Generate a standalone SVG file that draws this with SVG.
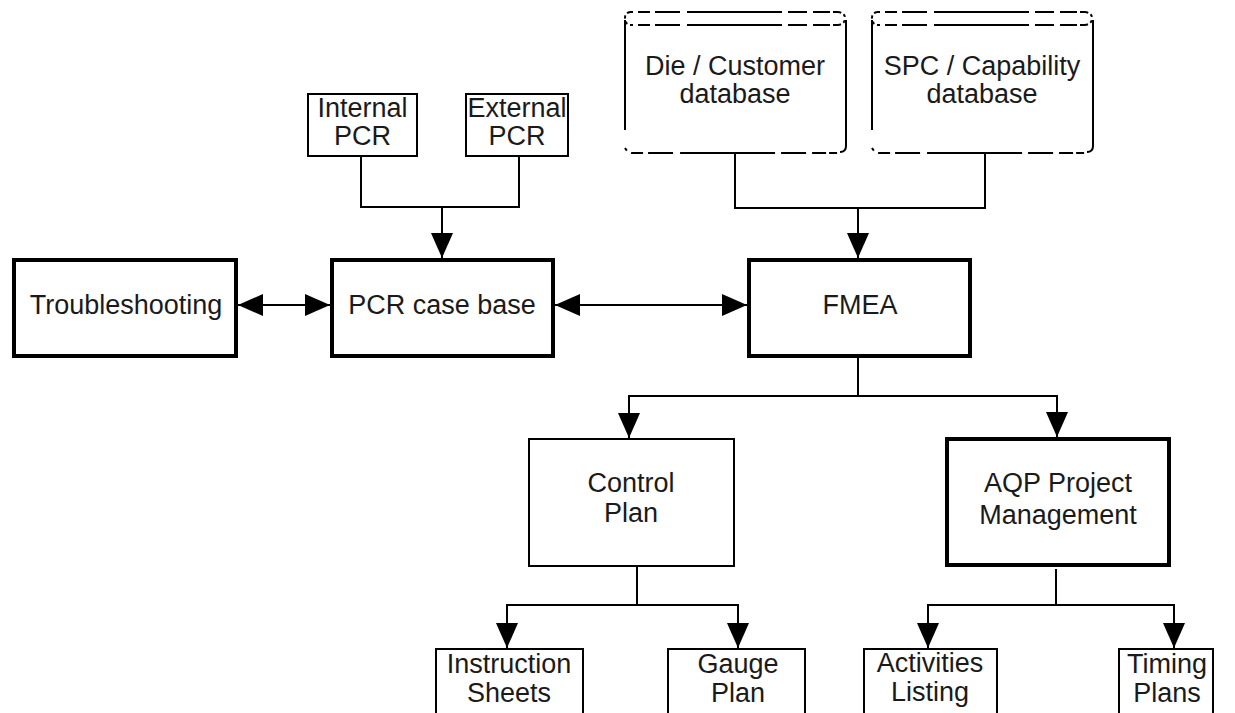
<svg xmlns="http://www.w3.org/2000/svg" xmlns:xlink="http://www.w3.org/1999/xlink" width="1235" height="713" viewBox="0 0 1235 713">
  <style>
    .thick { fill: #fff; stroke: #000; stroke-width: 4; }
    .thin { fill: #fff; stroke: #000; stroke-width: 2; }
    .lbl { font-family: "Liberation Sans", Arial, sans-serif; font-size: 27px; fill: #1a1a1a; text-anchor: middle; }
    .wire { fill: none; stroke: #000; stroke-width: 2; }
    .side { fill: none; stroke: #000; stroke-width: 2; }
    .rim { fill: none; stroke: #000; stroke-width: 2; }
  </style>
  <defs>
    <marker id="ah" markerUnits="userSpaceOnUse" markerWidth="28" markerHeight="24" refX="25" refY="12" orient="auto-start-reverse">
      <path d="M0,1 L25,12 L0,23 Z" fill="#000"/>
    </marker>
    <!-- cylinder outline: dashed rims, solid sides -->
    <g id="cyl">
      <rect x="624" y="12" width="222" height="142" fill="#fff"/>
      <path class="rim" d="M630,12 H838" stroke-dasharray="3 5 12 5 25 7 95 6 19 6 17 3 5 0"/>
      <path class="rim" d="M630,25 H838" stroke-dasharray="3 5 12 5 25 7 95 6 19 6 17 3 5 0"/>
      <path class="rim" d="M630,12 Q625,13 625,18 Q625,24 630,25" stroke-dasharray="3 3"/>
      <path class="rim" d="M838,12 Q845,13 845,18 Q845,24 838,25" stroke-dasharray="3 3"/>
      <path class="side" d="M625,20 V130"/>
      <path class="side" d="M846,20 V146 Q846,152 840,152"/>
      <path class="rim" d="M625,148 Q628,153 632,153 H838" stroke-dasharray="3 5 12 5 25 7 95 6 25 6 14 3 5 0"/>
    </g>
  </defs>

  <!-- connectors -->
  <g id="connectors">
    <path class="wire" d="M361,157 V207 H519 V157"/>
    <path class="wire" d="M442,207 V258" marker-end="url(#ah)"/>
    <path class="wire" d="M735,154 V208 H985 V154"/>
    <path class="wire" d="M858,208 V258" marker-end="url(#ah)"/>
    <path class="wire" d="M238,305 H330" marker-start="url(#ah)" marker-end="url(#ah)"/>
    <path class="wire" d="M555,305 H747" marker-start="url(#ah)" marker-end="url(#ah)"/>
    <path class="wire" d="M858,358 V396"/>
    <path class="wire" d="M629,438 V396 H1057 V437" marker-start="url(#ah)" marker-end="url(#ah)"/>
    <path class="wire" d="M637,567 V605"/>
    <path class="wire" d="M507,648 V605 H738 V648" marker-start="url(#ah)" marker-end="url(#ah)"/>
    <path class="wire" d="M1056,569 V605"/>
    <path class="wire" d="M928,648 V605 H1174 V648" marker-start="url(#ah)" marker-end="url(#ah)"/>
  </g>

  <g id="internal-pcr">
    <rect class="thin" x="308" y="94" width="109" height="62"/>
    <text class="lbl" x="362.500" y="117">Internal</text>
    <text class="lbl" x="362.500" y="145">PCR</text>
  </g>
  <g id="external-pcr">
    <rect class="thin" x="466" y="94" width="102" height="62"/>
    <text class="lbl" x="517" y="117">External</text>
    <text class="lbl" x="517" y="145">PCR</text>
  </g>

  <g id="die-customer-db">
    <use xlink:href="#cyl"/>
    <text class="lbl" x="735" y="75">Die / Customer</text>
    <text class="lbl" x="735" y="103">database</text>
  </g>
  <g id="spc-capability-db">
    <use xlink:href="#cyl" transform="translate(247,0)"/>
    <text class="lbl" x="982" y="75">SPC / Capability</text>
    <text class="lbl" x="982" y="103">database</text>
  </g>

  <g id="troubleshooting">
    <rect class="thick" x="14" y="260" width="222" height="96"/>
    <text class="lbl" x="126" y="314">Troubleshooting</text>
  </g>
  <g id="pcr-case-base">
    <rect class="thick" x="332" y="260" width="221" height="96"/>
    <text class="lbl" x="442" y="314">PCR case base</text>
  </g>
  <g id="fmea">
    <rect class="thick" x="749" y="260" width="221" height="96"/>
    <text class="lbl" x="860" y="314">FMEA</text>
  </g>

  <g id="control-plan">
    <rect class="thin" x="529" y="439" width="205" height="127"/>
    <text class="lbl" x="631" y="492">Control</text>
    <text class="lbl" x="631" y="522">Plan</text>
  </g>
  <g id="aqp-project-management">
    <rect class="thick" x="947" y="439" width="222" height="126"/>
    <text class="lbl" x="1058" y="492">AQP Project</text>
    <text class="lbl" x="1058" y="524">Management</text>
  </g>

  <g id="instruction-sheets">
    <rect class="thin" x="436" y="649" width="147" height="80"/>
    <text class="lbl" x="509" y="673">Instruction</text>
    <text class="lbl" x="509" y="702">Sheets</text>
  </g>
  <g id="gauge-plan">
    <rect class="thin" x="668" y="649" width="137" height="80"/>
    <text class="lbl" x="738" y="673">Gauge</text>
    <text class="lbl" x="738" y="702">Plan</text>
  </g>
  <g id="activities-listing">
    <rect class="thin" x="864" y="649" width="133" height="80"/>
    <text class="lbl" x="930" y="672">Activities</text>
    <text class="lbl" x="930" y="701">Listing</text>
  </g>
  <g id="timing-plans">
    <rect class="thin" x="1119" y="649" width="94" height="80"/>
    <text class="lbl" x="1167" y="673">Timing</text>
    <text class="lbl" x="1167" y="702">Plans</text>
  </g>
</svg>
